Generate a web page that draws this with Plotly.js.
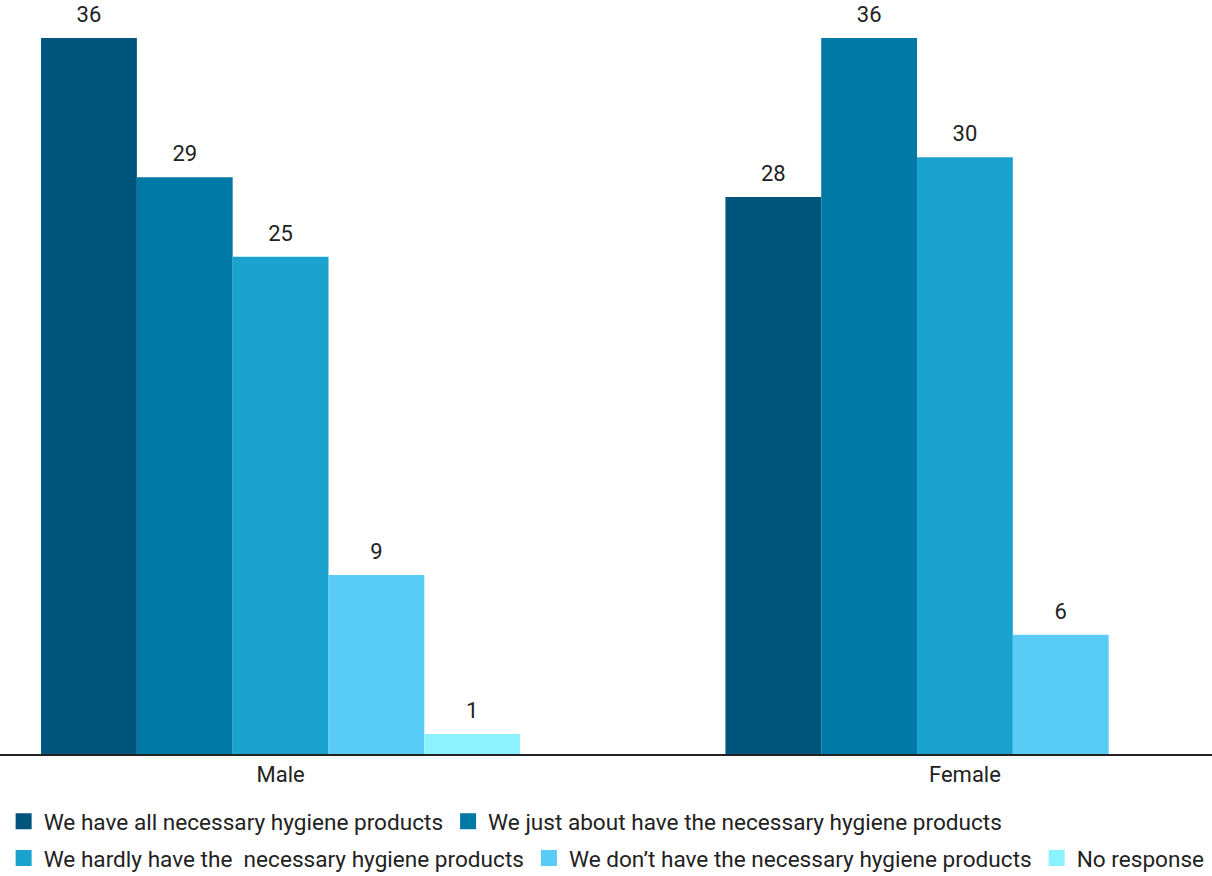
<!DOCTYPE html>
<html>
<head>
<meta charset="utf-8">
<script src="https://cdn.plot.ly/plotly-3.0.1.min.js"></script>
<style>html,body{margin:0;padding:0;background:#fff;}#chart{width:1212px;height:876px;}</style>
</head>
<body>
<div id="chart"></div>
<script>
const categories = ["Male", "Female"];
const seriesNames = [
  "We have all necessary hygiene products",
  "We just about have the necessary hygiene products",
  "We hardly have the  necessary hygiene products",
  "We don’t have the necessary hygiene products",
  "No response"
];
const allProducts = [36, 28];
const justAbout = [29, 36];
const hardly = [25, 30];
const dontHave = [9, 6];
const noResponse = [1, null];
const seriesColors = ["#00557C", "#0079A6", "#1AA3CF", "#58CBF7", "#8AF3FF"];
const legendRow = ["legend", "legend", "legend2", "legend2", "legend2"];

const seriesValues = [allProducts, justAbout, hardly, dontHave, noResponse];
const font = "Roboto, 'Noto Sans', sans-serif";
const textColor = "#222";

const barTraces = seriesValues.map((vals, i) => ({
  type: "bar",
  name: seriesNames[i],
  x: categories,
  y: vals,
  marker: {color: seriesColors[i], line: {width: 0}},
  showlegend: false,
  hoverinfo: "x+y+name"
}));

// value labels, placed with the same grouping as the bars
const labelTraces = seriesValues.map((vals, i) => ({
  type: "scatter",
  mode: "markers+text",
  x: categories,
  y: vals,
  text: vals.map(v => v === null ? "" : String(v)),
  textposition: "top center",
  textfont: {family: font, size: 22, color: textColor},
  marker: {size: 15, color: "rgba(0,0,0,0)"},
  showlegend: false,
  cliponaxis: false,
  hoverinfo: "skip"
}));

// legend entries with larger square swatches (no data drawn)
const legendTraces = seriesNames.map((name, i) => ({
  type: "scatter",
  mode: "markers",
  name: name,
  x: [null],
  y: [null],
  xaxis: "x2",
  yaxis: "y2",
  marker: {symbol: "square", size: 26, color: seriesColors[i], line: {width: 0}},
  legend: legendRow[i],
  showlegend: true,
  hoverinfo: "skip"
}));

const legendCommon = {
  orientation: "h",
  xanchor: "left",
  yanchor: "middle",
  font: {family: font, size: 22.6, color: textColor},
  traceorder: "normal",
  itemwidth: 30,
  itemsizing: "trace",
  bgcolor: "rgba(0,0,0,0)"
};

const layout = {
  width: 1212,
  height: 876,
  margin: {l: 0, r: 0, t: 0, b: 122, autoexpand: false},
  barmode: "group",
  bargap: 0.3,
  bargroupgap: 0,
  scattermode: "group",
  scattergap: 0.3,
  paper_bgcolor: "#fff",
  plot_bgcolor: "#fff",
  font: {family: font, color: textColor},
  xaxis: {
    type: "category",
    range: [-0.41, 1.361],
    showline: true,
    linecolor: "#222",
    linewidth: 2,
    ticks: "",
    tickfont: {family: font, size: 22, color: textColor},
    showgrid: false,
    zeroline: false
  },
  yaxis: {
    range: [0, 37.91],
    visible: false,
    showgrid: false,
    zeroline: false
  },
  xaxis2: {visible: false, overlaying: "x", range: [0, 1]},
  yaxis2: {visible: false, overlaying: "y", range: [0, 1]},
  showlegend: true,
  legend: Object.assign({}, legendCommon, {x: 0.003, y: -0.0895}),
  legend2: Object.assign({}, legendCommon, {x: 0.003, y: -0.1385})
};

Plotly.newPlot("chart", barTraces.concat(labelTraces, legendTraces), layout, {displayModeBar: false, staticPlot: true});
</script>
</body>
</html>
